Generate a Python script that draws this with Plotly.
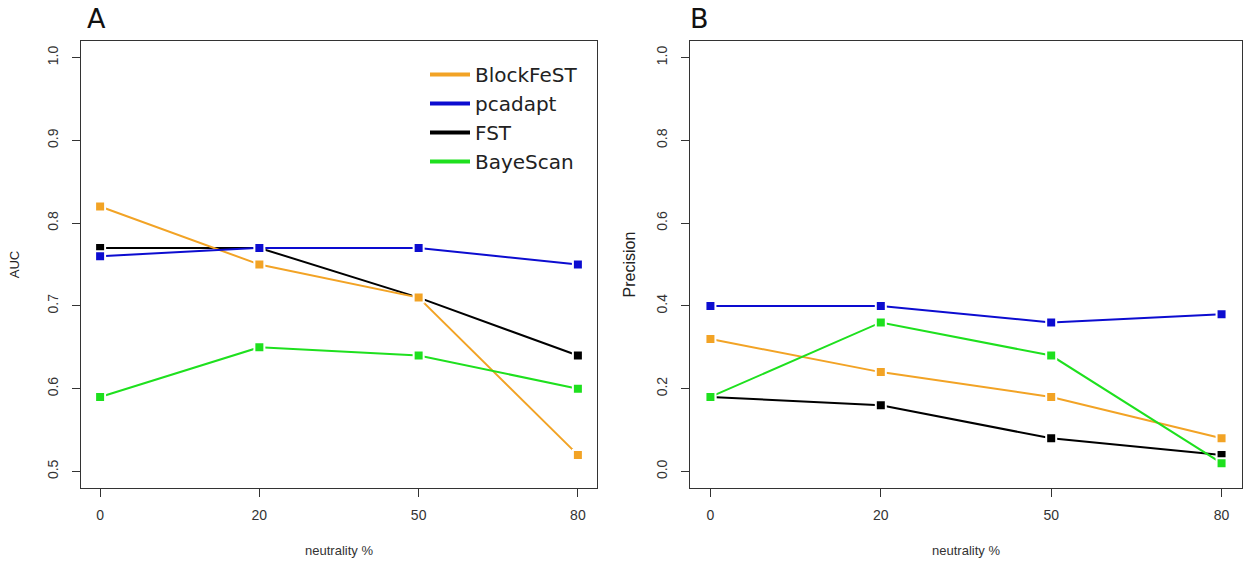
import plotly.graph_objects as go

neutrality = ["0", "20", "50", "80"]
methods = ["BlockFeST", "pcadapt", "FST", "BayeScan"]
draw_order = ["FST", "BlockFeST", "pcadapt", "BayeScan"]
colors = {"BlockFeST": "#F2A325", "pcadapt": "#0C0CD0", "FST": "#000000", "BayeScan": "#1EE01E"}

auc = {
    "BlockFeST": [0.82, 0.75, 0.71, 0.52],
    "pcadapt": [0.76, 0.77, 0.77, 0.75],
    "FST": [0.77, 0.77, 0.71, 0.64],
    "BayeScan": [0.59, 0.65, 0.64, 0.60],
}
precision = {
    "BlockFeST": [0.32, 0.24, 0.18, 0.08],
    "pcadapt": [0.40, 0.40, 0.36, 0.38],
    "FST": [0.18, 0.16, 0.08, 0.04],
    "BayeScan": [0.18, 0.36, 0.28, 0.02],
}

auc_ticks = [0.5, 0.6, 0.7, 0.8, 0.9, 1.0]
prec_ticks = [0.0, 0.2, 0.4, 0.6, 0.8, 1.0]

# body margin is removed in the page (post_script), so screen px == paper px
W, H = 1248, 562


def px_x(sx):
    return sx / W


def px_y(sy):
    return 1 - sy / H


fig = go.Figure()

for m in draw_order:
    for data, xa, ya in [(auc, "x", "y"), (precision, "x2", "y2")]:
        fig.add_trace(go.Scatter(
            x=neutrality, y=data[m], xaxis=xa, yaxis=ya, mode="lines+markers",
            line=dict(color=colors[m], width=2),
            marker=dict(symbol="square", size=10, color=colors[m],
                        line=dict(color="white", width=2)),
            showlegend=False, name=m, cliponaxis=False,
        ))

for m in methods:
    # legend entry (line only)
    fig.add_trace(go.Scatter(
        x=[None], y=[None], xaxis="x", yaxis="y", mode="lines",
        line=dict(color=colors[m], width=4), name=m, showlegend=True,
    ))

tickfont = dict(family="Liberation Sans, Arial, sans-serif", size=14, color="#333333")
common_x = dict(type="category", range=[-0.12, 3.12], showline=True, mirror=True,
                linecolor="#333333", linewidth=1, ticks="outside", ticklen=8,
                tickcolor="#333333", showgrid=False, zeroline=False, tickfont=tickfont,
                ticklabelstandoff=6, fixedrange=True)
common_y = dict(showline=True, mirror=True, linecolor="#333333", linewidth=1,
                ticks="outside", ticklen=8, tickcolor="#333333", showgrid=False,
                zeroline=False, tickfont=tickfont, tickangle=-90, ticklabelstandoff=8,
                fixedrange=True)

ydom = [px_y(488), px_y(41)]
fig.update_layout(
    width=W, height=H, margin=dict(l=0, r=0, t=0, b=0),
    paper_bgcolor="white", plot_bgcolor="white",
    xaxis=dict(common_x, domain=[px_x(81), px_x(597)], anchor="y",
               title=dict(text="neutrality %", standoff=24,
                          font=dict(family="Liberation Sans, Arial, sans-serif", size=13, color="#333333"))),
    yaxis=dict(common_y, domain=ydom, anchor="x", range=[0.48, 1.02], tickvals=auc_ticks,
               ticktext=[f"{v:.1f}" for v in auc_ticks],
               title=dict(text="AUC", standoff=22,
                          font=dict(family="Liberation Sans, Arial, sans-serif", size=13, color="#222222"))),
    xaxis2=dict(common_x, domain=[px_x(690), px_x(1242)], anchor="y2",
                title=dict(text="neutrality %", standoff=24,
                           font=dict(family="Liberation Sans, Arial, sans-serif", size=13, color="#333333"))),
    yaxis2=dict(common_y, domain=ydom, anchor="x2", range=[-0.04, 1.04], tickvals=prec_ticks,
                ticktext=[f"{v:.1f}" for v in prec_ticks],
                title=dict(text="Precision", standoff=14,
                           font=dict(family="Liberation Sans, Arial, sans-serif", size=16, color="#222222"))),
    legend=dict(x=px_x(425), y=px_y(55), xanchor="left", yanchor="top",
                bgcolor="rgba(0,0,0,0)", borderwidth=0,
                font=dict(family="DejaVu Sans, sans-serif", size=20, color="#222222"),
                tracegroupgap=0, itemwidth=40),
    annotations=[
        dict(text="A", x=px_x(96), y=px_y(18), xref="paper", yref="paper", showarrow=False,
             xanchor="center", yanchor="middle",
             font=dict(family="DejaVu Sans, sans-serif", size=27, color="#111111")),
        dict(text="B", x=px_x(699), y=px_y(18), xref="paper", yref="paper", showarrow=False,
             xanchor="center", yanchor="middle",
             font=dict(family="DejaVu Sans, sans-serif", size=27, color="#111111")),
    ],
)

fig.write_html("out.html", config={"displayModeBar": False},
               post_script="document.body.style.margin='0';")
